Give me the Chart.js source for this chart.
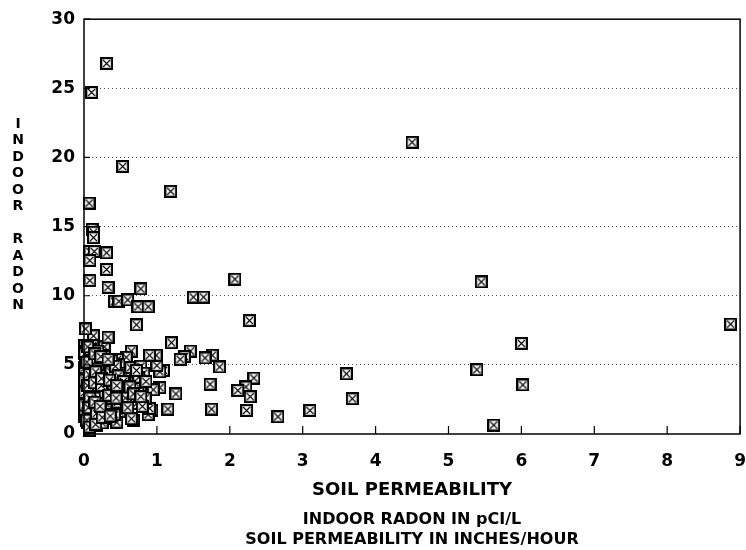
<!DOCTYPE html>
<html>
<head>
<meta charset="utf-8">
<script src="https://cdn.jsdelivr.net/npm/chart.js@4.4.1/dist/chart.umd.min.js"></script>
<style>
  html, body { margin: 0; padding: 0; background: #fff; }
  #wrap { width: 746px; height: 550px; }
</style>
</head>
<body>
<div id="wrap"><canvas id="chart"></canvas></div>
<script>
// soil permeability (inches/hour) and indoor radon (pCi/L)
const permeability = [
    0.31, 0.105, 0.53, 0.07, 1.19, 0.11, 0.13, 0.13, 0.08, 0.14, 0.31, 0.08, 0.31, 0.08, 0.33, 2.07,
    0.78, 1.5, 1.64, 0.42, 0.48, 0.6, 0.74, 0.88, 0.72, 2.27, 4.5, 5.45, 5.39, 5.62, 6.0, 6.02,
    8.87, 3.6, 3.68, 3.1, 2.66, 2.33, 2.22, 2.11, 2.28, 2.23, 1.86, 1.76, 1.66, 1.73, 1.75, 1.46,
    1.38, 1.32, 1.2, 1.26, 1.15, 1.09, 1.04, 1.0, 0.99, 0.9, 1.04, 0.95, 0.77, 0.93, 0.88, 0.9,
    0.49, 0.45, 0.68, 0.08, 0.65, 0.58, 0.46, 0.28, 0.27, 0.33, 0.13, 0.02, 0.01, 0.12, 0.69, 0.51,
    0.74, 0.65,
    0.03, 0.05, 0.02, 0.06, 0.03, 0.07, 0.02, 0.06, 0.03, 0.08, 0.04, 0.09, 0.05,
    0.12, 0.14, 0.11, 0.15, 0.12, 0.16, 0.13, 0.17, 0.14, 0.18, 0.2,
    0.22, 0.24, 0.21, 0.25, 0.23, 0.26, 0.28, 0.3, 0.27,
    0.32, 0.34, 0.31, 0.36, 0.33, 0.38, 0.35,
    0.4, 0.42, 0.44, 0.41, 0.46, 0.48, 0.38,
    0.52, 0.55, 0.5, 0.58, 0.62, 0.6, 0.66, 0.7, 0.72, 0.56, 0.64, 0.78, 0.82, 0.84, 0.8, 0.75,
    0.01, 0.01, 0.01, 0.01, 0.01, 0.01,
    0.09, 0.1, 0.09, 0.1, 0.09, 0.1, 0.09, 0.11, 0.1,
    0.19, 0.18, 0.19, 0.18, 0.19, 0.2, 0.2, 0.17,
    0.28, 0.29, 0.28, 0.29, 0.3, 0.25,
    0.37, 0.4, 0.38, 0.42, 0.43, 0.47, 0.5, 0.54, 0.57, 0.6, 0.63, 0.68, 0.72, 0.78, 0.85,
    0.04, 0.07, 0.05, 0.08, 0.06, 0.04, 0.07, 0.05,
    0.15, 0.16, 0.14, 0.15, 0.17, 0.16,
    0.23, 0.24, 0.22, 0.25, 0.24,
    0.33, 0.35, 0.34, 0.36, 0.45, 0.44
];
const radon = [
    26.8, 24.7, 19.35, 16.7, 17.55, 14.8, 14.6, 14.2, 13.2, 13.2, 13.1, 12.55, 11.9, 11.1, 10.6, 11.2,
    10.5, 9.9, 9.9, 9.6, 9.6, 9.7, 9.2, 9.2, 7.9, 8.2, 21.1, 11.0, 4.65, 0.65, 6.55, 3.55,
    7.95, 4.35, 2.55, 1.7, 1.25, 4.05, 3.4, 3.15, 2.7, 1.7, 4.85, 5.7, 5.5, 3.6, 1.8, 6.0,
    5.6, 5.4, 6.6, 2.9, 1.8, 4.6, 4.5, 4.95, 5.7, 5.7, 3.35, 3.2, 3.2, 1.7, 1.4, 1.85,
    1.6, 0.85, 1.0, 0.25, 6.0, 5.55, 5.4, 6.3, 5.7, 7.0, 7.1, 7.6, 6.4, 6.4, 4.5, 4.7,
    3.3, 1.1,
    6.0, 5.5, 5.0, 4.6, 4.1, 3.6, 3.2, 2.8, 2.4, 2.0, 1.6, 1.2, 0.8,
    5.6, 5.0, 4.4, 3.9, 3.4, 2.9, 2.5, 2.1, 1.7, 1.3, 0.9,
    5.2, 4.5, 3.8, 3.2, 2.7, 2.3, 1.9, 1.5, 1.1,
    4.8, 4.2, 3.6, 3.0, 2.5, 2.0, 1.6,
    4.4, 3.8, 3.3, 2.8, 2.3, 5.0, 5.3,
    3.7, 3.0, 2.6, 2.2, 2.8, 4.0, 2.4, 3.7, 2.2, 4.4, 4.8, 4.9, 4.4, 2.6, 2.0, 4.1,
    5.8, 4.8, 3.9, 3.0, 2.1, 1.3,
    6.1, 5.3, 4.7, 4.0, 3.4, 2.7, 2.3, 1.6, 0.9,
    6.0, 5.4, 4.7, 4.1, 3.5, 2.6, 1.8, 0.6,
    5.6, 4.2, 3.6, 2.9, 2.2, 0.8,
    4.5, 3.6, 2.6, 1.4, 4.9, 4.2, 3.2, 3.8, 2.6, 1.9, 3.4, 2.9, 4.6, 2.7, 3.8,
    5.2, 4.3, 3.5, 2.6, 1.9, 1.0, 0.5, 6.3,
    5.8, 4.5, 3.7, 2.3, 1.5, 0.7,
    5.6, 3.5, 2.0, 1.2, 4.0,
    5.4, 3.9, 2.8, 1.3, 3.5, 2.6
];
const xTicks = [0, 1, 2, 3, 4, 5, 6, 7, 8, 9];
const yTicks = [0, 5, 10, 15, 20, 25, 30];
const yTitle = ["I", "N", "D", "O", "O", "R", "", "R", "A", "D", "O", "N"];
const caption = ["INDOOR RADON IN pCI/L", "SOIL PERMEABILITY IN INCHES/HOUR"];

const FONT = "'DejaVu Sans', 'Liberation Sans', sans-serif";

// boxed-x marker
const mark = document.createElement("canvas");
mark.width = 13;
mark.height = 13;
const m = mark.getContext("2d");
m.fillStyle = "#fff";
m.fillRect(1, 1, 11, 11);
m.strokeStyle = "#000";
m.lineWidth = 2.2;
m.strokeRect(1.1, 1.1, 10.8, 10.8);
m.lineWidth = 1.1;
m.beginPath();
m.moveTo(3, 3); m.lineTo(10, 10);
m.moveTo(10, 3); m.lineTo(3, 10);
m.stroke();

const framePlugin = {
    id: "frame",
    afterDraw(chart) {
        const {ctx, chartArea: a, scales: {x, y}} = chart;
        ctx.save();
        ctx.strokeStyle = "#000";
        ctx.lineWidth = 1.5;
        ctx.strokeRect(a.left, a.top, a.right - a.left, a.bottom - a.top);
        ctx.lineWidth = 1.2;
        ctx.beginPath();
        xTicks.forEach(v => {
            const px = x.getPixelForValue(v);
            ctx.moveTo(px, a.bottom);
            ctx.lineTo(px, a.bottom - 8);
        });
        yTicks.forEach(v => {
            const py = y.getPixelForValue(v);
            ctx.moveTo(a.left, py);
            ctx.lineTo(a.left + 6, py);
        });
        ctx.stroke();

        ctx.fillStyle = "#000";
        ctx.font = "bold 14px " + FONT;
        ctx.textAlign = "center";
        ctx.textBaseline = "middle";
        yTitle.forEach((ch, i) => ctx.fillText(ch, 18, 124 + i * 16.5));
        ctx.restore();
    }
};

new Chart(document.getElementById("chart"), {
    type: "scatter",
    data: {
        datasets: [{
            data: permeability.map((v, i) => ({x: v, y: radon[i]})),
            pointStyle: mark,
            clip: false
        }]
    },
    options: {
        responsive: true,
        maintainAspectRatio: false,
        animation: false,
        layout: { padding: { top: 17, right: 5, left: 0, bottom: 0 } },
        scales: {
            x: {
                min: 0,
                max: 9,
                afterBuildTicks: s => { s.ticks = xTicks.map(v => ({value: v})); },
                afterFit: s => { s.height = 70; },
                grid: {
                    drawOnChartArea: false,
                    drawTicks: true,
                    tickLength: 17,
                    tickColor: "rgba(0,0,0,0)"
                },
                border: { display: false },
                ticks: {
                    color: "#000",
                    padding: 0,
                    maxRotation: 0,
                    font: { family: FONT, size: 17, weight: "bold" }
                },
                title: {
                    display: true,
                    text: "SOIL PERMEABILITY",
                    color: "#000",
                    padding: { top: 0, bottom: 3 },
                    font: { family: FONT, size: 18, weight: "bold" }
                }
            },
            y: {
                min: 0,
                max: 30,
                afterBuildTicks: s => { s.ticks = yTicks.map(v => ({value: v})); },
                afterFit: s => { s.width = 84; },
                grid: {
                    drawTicks: false,
                    color: c => (c.tick && c.tick.value > 0 && c.tick.value < 30) ? "#555" : "rgba(0,0,0,0)",
                    lineWidth: 1
                },
                border: { display: false, dash: [1, 3] },
                ticks: {
                    color: "#000",
                    padding: 9,
                    font: { family: FONT, size: 17, weight: "bold" }
                }
            }
        },
        plugins: {
            legend: { display: false },
            tooltip: { enabled: false },
            title: {
                display: true,
                position: "bottom",
                fullSize: false,
                text: caption,
                color: "#000",
                padding: { top: 6, bottom: 0 },
                font: { family: FONT, size: 16, weight: "bold", lineHeight: 1.25 }
            }
        }
    },
    plugins: [framePlugin]
});
</script>
</body>
</html>
